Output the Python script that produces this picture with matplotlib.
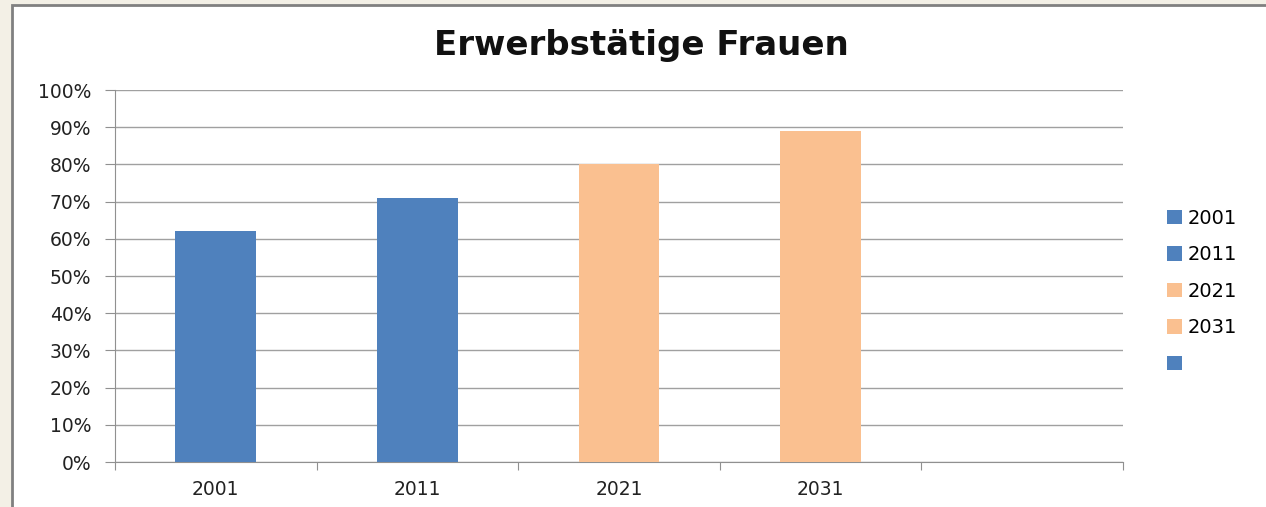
import matplotlib.pyplot as plt
from matplotlib.patches import Rectangle, Patch
import numpy as np

# Daten
jahre = ["2001", "2011", "2021", "2031"]
anteil = [0.62, 0.71, 0.80, 0.89]
farben = ["#4F81BD", "#4F81BD", "#FAC090", "#FAC090"]
legende_labels = ["2001", "2011", "2021", "2031", ""]
legende_farben = ["#4F81BD", "#4F81BD", "#FAC090", "#FAC090", "#4F81BD"]
n_kategorien = 5
y_ticks = np.arange(0, 1.01, 0.1)

fig = plt.figure(figsize=(12.66, 5.07), dpi=100, facecolor="#F3F0E6")
# weisser Diagrammbereich mit grauem Rand
fig.patches.append(Rectangle((12 / 1266, -0.05), 1.1, 1 - 5 / 507 + 0.05,
                             transform=fig.transFigure, facecolor="white",
                             edgecolor="#808080", linewidth=2, zorder=-1))

ax = fig.add_axes([115 / 1266, 1 - 462 / 507, (1123 - 115) / 1266, (462 - 90) / 507])
ax.set_zorder(1)
ax.set_facecolor("white")

ax.bar(range(len(jahre)), anteil, width=0.4, color=farben, zorder=3)

ax.set_xlim(-0.5, n_kategorien - 0.5)
ax.set_ylim(0, 1)
ax.set_yticks(y_ticks)
ax.set_yticklabels([f"{int(round(t * 100))}%" for t in y_ticks], fontsize=13.5, color="#222222")
ax.yaxis.grid(True, color="#A0A0A0", linewidth=1, zorder=0)
ax.tick_params(axis="y", length=7, pad=10)

ax.set_xticks(np.arange(-0.5, n_kategorien, 1))
ax.set_xticklabels([])
ax.set_xticks(range(len(jahre)), minor=True)
ax.set_xticklabels(jahre, minor=True, fontsize=13.5, color="#222222")
ax.tick_params(axis="x", which="minor", length=0, pad=13)
ax.tick_params(axis="x", which="major", length=6)
ax.tick_params(axis="both", which="major", color="#909090", direction="out")

for s in ["top", "right"]:
    ax.spines[s].set_visible(False)
for s in ["left", "bottom"]:
    ax.spines[s].set_color("#909090")

fig.text(641 / 1266, 1 - 45 / 507, "Erwerbstätige Frauen", ha="center", va="center",
         fontsize=24.5, fontweight="bold", family="DejaVu Sans", color="#111111")

handles = [Patch(facecolor=c) for c in legende_farben]
fig.legend(handles, legende_labels, loc="upper left", bbox_to_anchor=(1157 / 1266, 1 - 199 / 507),
           frameon=False, fontsize=14, handlelength=0.78, handleheight=0.78,
           handletextpad=0.3, labelspacing=0.9, borderpad=0)

fig.savefig("out.png", dpi=100, facecolor=fig.get_facecolor())
